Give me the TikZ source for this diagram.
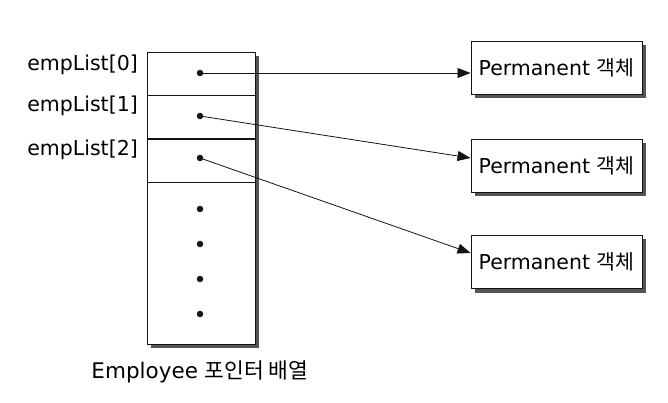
\documentclass[tikz,border=0pt]{standalone}
\usepackage{fontspec}
\setmainfont{DejaVu Sans}
\newfontfamily\krfont{Noto Sans CJK KR}
\usetikzlibrary{arrows.meta, positioning, calc, backgrounds}
\definecolor{mydark}{RGB}{20,20,20}
\definecolor{myshadow}{RGB}{85,85,85}
\tikzset{
  arrbox/.style={rectangle, draw=mydark, fill=white, line width=0.9pt,
    minimum width=108pt, minimum height=292pt, inner sep=0pt},
  cell/.style={rectangle, draw=mydark, line width=0.9pt,
    minimum width=108pt, minimum height=43pt, inner sep=0pt},
  objbox/.style={rectangle, draw=mydark, fill=white, line width=0.9pt,
    minimum width=171pt, minimum height=53pt, inner sep=0pt,
    font=\fontsize{20.5}{22}\selectfont},
  ptr/.style={circle, fill=mydark, inner sep=0pt, minimum size=6.5pt},
  idxlabel/.style={anchor=east, font=\fontsize{20.5}{22}\selectfont, inner sep=0pt},
  arrow/.style={-{Triangle[length=13pt,width=10pt]}, line width=0.8pt, color=mydark},
  boxshadow/.style={fill=myshadow}
}

\begin{document}
\begin{tikzpicture}[x=1pt, y=1pt]
  \useasboundingbox (0,0) rectangle (668,402);

  % pointer array
  \node[arrbox] (arr) at (201,204) {};
  \node[cell, anchor=north] (c0) at (arr.north) {};
  \node[cell, below=0pt of c0] (c1) {};
  \node[cell, below=0pt of c1] (c2) {};

  \node[ptr] (p0) at (200,329) {};
  \node[ptr] (p1) at (200,286) {};
  \node[ptr] (p2) at (200,244) {};
  \foreach \yy [count=\i] in {193,158,123,88}
    \node[ptr] (d\i) at (200,\yy) {};

  \node[idxlabel] (l0) at (138,337) {empList[0]};
  \node[idxlabel] (l1) at (138,296) {empList[1]};
  \node[idxlabel] (l2) at (138,252) {empList[2]};

  % objects
  \node[objbox] (obj1) at (556.5,334.5) {Permanent {\krfont 객체}};
  \node[objbox] (obj2) at (556.5,236.5) {Permanent {\krfont 객체}};
  \node[objbox] (obj3) at (556.5,140) {Permanent {\krfont 객체}};

  % shadows
  \begin{scope}[on background layer]
    \foreach \n in {arr,obj1,obj2,obj3}
      \fill[boxshadow] ($(\n.south west)+(4,-4)$) rectangle ($(\n.north east)+(4,-4)$);
  \end{scope}

  \draw[arrow] (p0.center) -- ($(obj1.west)+(0,-5.5)$);
  \draw[arrow] (p1.center) -- ($(obj2.west)+(0,7.5)$);
  \draw[arrow] (p2.center) -- ($(obj3.west)+(0,9)$);

  \node[font=\fontsize{21.5}{23}\selectfont] (cap) at (200,30) {Employee {\krfont 포인터 배열}};
\end{tikzpicture}
\end{document}
